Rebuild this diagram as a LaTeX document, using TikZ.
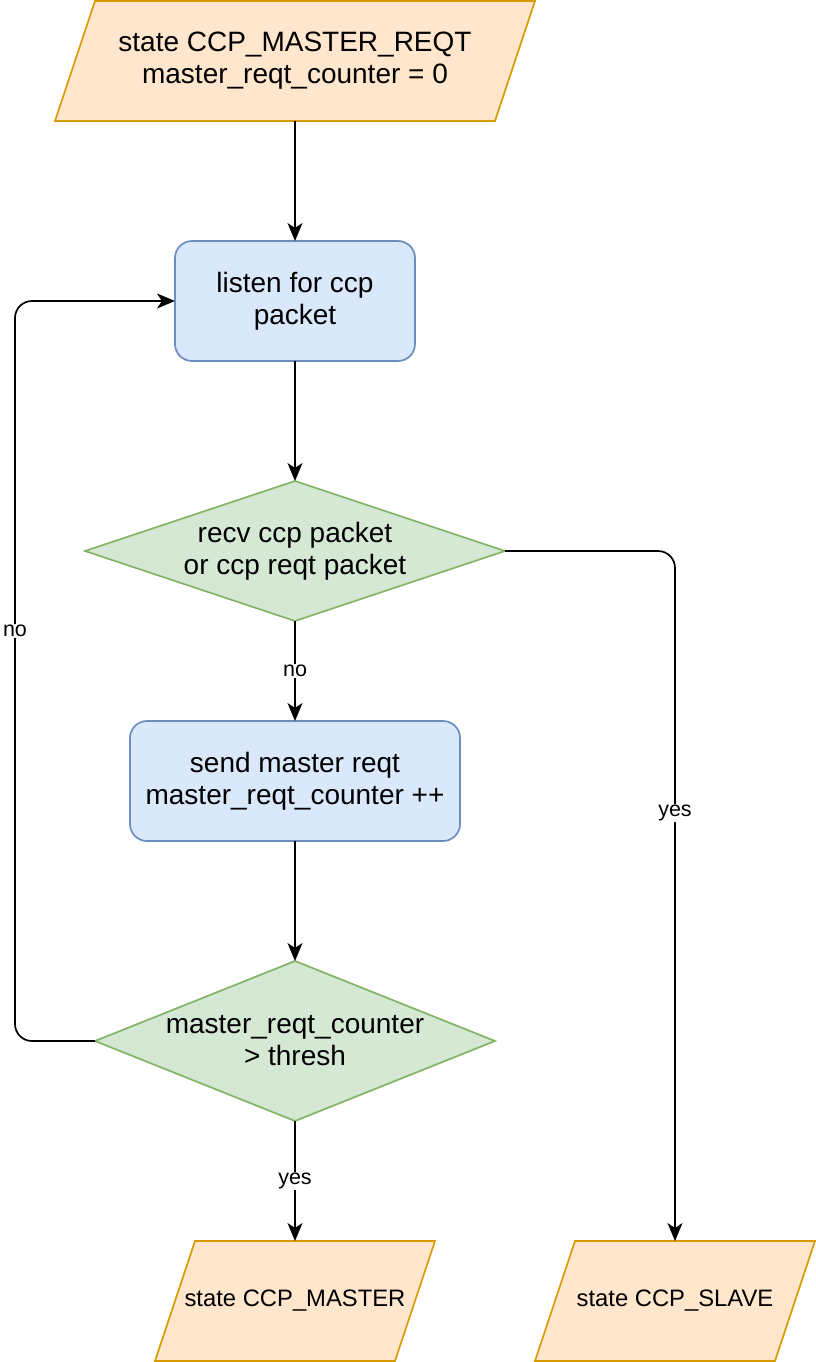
\documentclass[tikz,border=0pt]{standalone}
\usepackage{fontspec}
\setmainfont{Liberation Sans}
\usetikzlibrary{arrows.meta,backgrounds}
\definecolor{orfill}{HTML}{FFE6CC}
\definecolor{ordraw}{HTML}{D79B00}
\definecolor{blfill}{HTML}{DAE8FC}
\definecolor{bldraw}{HTML}{6C8EBF}
\definecolor{grfill}{HTML}{D5E8D4}
\definecolor{grdraw}{HTML}{82B366}
\begin{document}
\begin{tikzpicture}[x=1pt,y=-1pt,line width=1.7pt,
  big/.style={font=\fontsize{28}{32}\selectfont,align=center},
  small/.style={font=\fontsize{23.8}{28}\selectfont,align=center},
  procbox/.style={big,draw=bldraw,fill=blfill,rounded corners=17pt,minimum height=120pt,inner sep=0pt,outer sep=0pt},
  shapebox/.style={inner sep=0pt,outer sep=0pt},
  arr/.style={-{Stealth[length=18pt,width=15pt,inset=5pt]},line width=1.7pt},
  lbl/.style={font=\fontsize{21.5}{25}\selectfont,fill=white,inner sep=1pt},
  para/.style={draw=ordraw,fill=orfill,line width=1.7pt},
  dia/.style={draw=grdraw,fill=grfill,line width=1.7pt}]
\useasboundingbox (0,0) rectangle (816,1362);

% nodes
\node[shapebox,big,minimum width=440pt,minimum height=120pt] (start) at (295,61) {state CCP\_MASTER\_REQT\\master\_reqt\_counter = 0};
\node[procbox,minimum width=240pt] (listen) at (295,301) {listen for ccp\\packet};
\node[shapebox,big,minimum width=420pt,minimum height=140pt] (recv) at (295,551) {recv ccp packet\\or ccp reqt packet};
\node[procbox,minimum width=330pt] (send) at (295,781) {send master reqt\\master\_reqt\_counter ++};
\node[shapebox,big,minimum width=400pt,minimum height=160pt] (thresh) at (295,1041) {master\_reqt\_counter\\> thresh};
\node[shapebox,small,minimum width=240pt,minimum height=120pt] (master) at (295,1301) {state CCP\_MASTER};
\node[shapebox,small,minimum width=240pt,minimum height=120pt] (slave) at (675,1301) {state CCP\_SLAVE};

\begin{scope}[on background layer]
  \foreach \n in {start,master,slave}{
    \path[para] ([xshift=20pt]\n.north west) -- ([xshift=20pt]\n.north east)
      -- ([xshift=-20pt]\n.south east) -- ([xshift=-20pt]\n.south west) -- cycle;
  }
  \foreach \n in {recv,thresh}{
    \path[dia] (\n.north) -- (\n.east) -- (\n.south) -- (\n.west) -- cycle;
  }
\end{scope}

% connectors
\draw[arr] (start) -- (listen);
\draw[arr] (listen) -- (recv);
\draw[arr] (recv) -- node[lbl]{no} (send);
\draw[arr] (send) -- (thresh);
\draw[arr] (thresh) -- node[lbl]{yes} (master);
\draw[arr,rounded corners=17pt] (recv.east) -| node[lbl,pos=0.69]{yes} (slave.north);
\draw[arr,rounded corners=17pt] (thresh.west) -- ++(-80pt,0) |- node[lbl,pos=0.277]{no} (listen.west);
\end{tikzpicture}
\end{document}
